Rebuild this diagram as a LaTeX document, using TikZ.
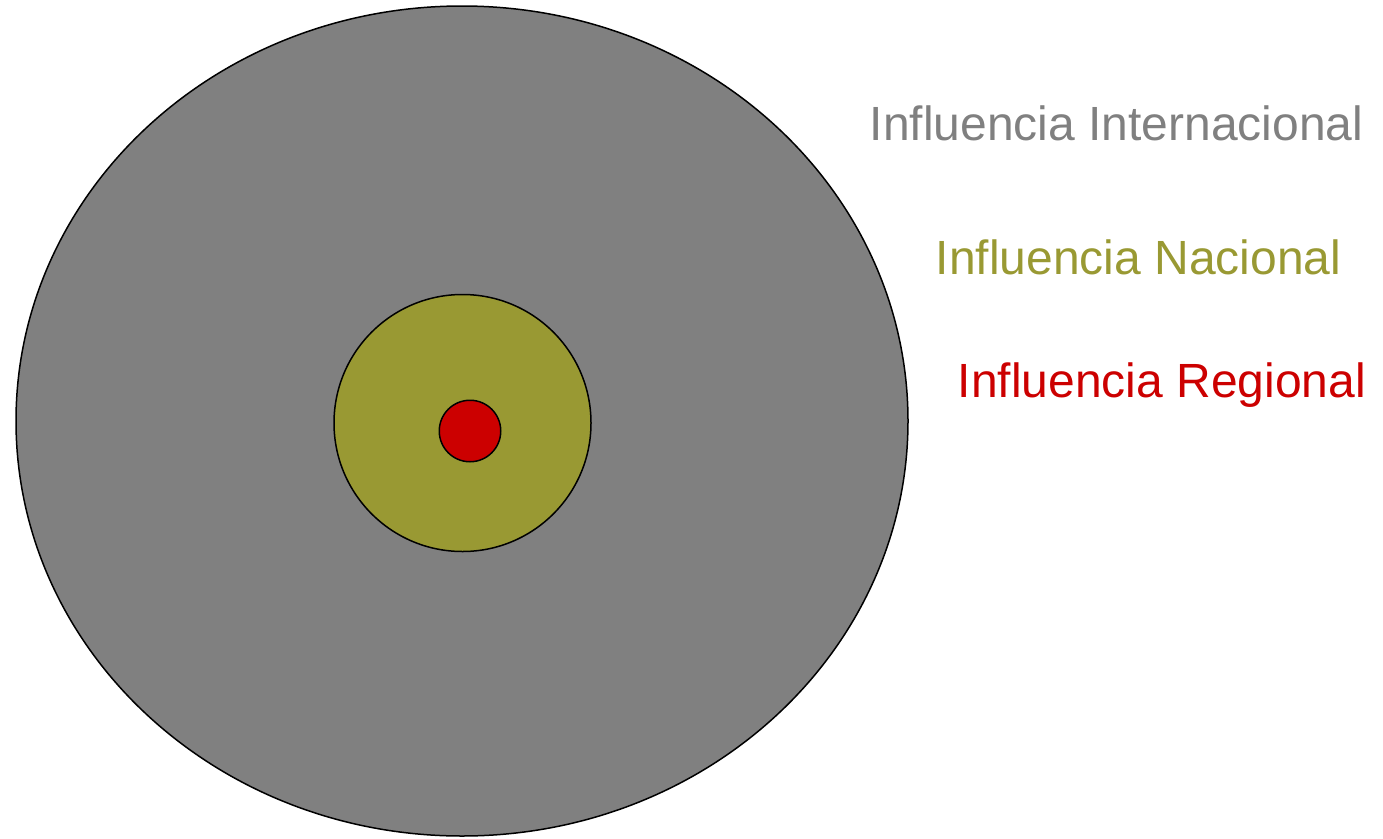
\documentclass[tikz,border=0pt]{standalone}
\usepackage{fontspec}
\setmainfont{Liberation Sans}
\usetikzlibrary{shapes.geometric}
\definecolor{cgray}{HTML}{808080}
\definecolor{colive}{HTML}{999933}
\definecolor{cred}{HTML}{CC0000}
\begin{document}
\begin{tikzpicture}[x=1pt,y=-1pt,
  ring/.style={draw=black,line width=1.5pt,inner sep=0pt},
  lab/.style={anchor=base west,inner sep=0pt,font=\fontsize{48}{56}\selectfont}]
\useasboundingbox (0,0) rectangle (1383,838);
\node[ring,ellipse,fill=cgray,minimum width=892pt,minimum height=830pt] (outer) at (462,421) {};
\node[ring,circle,fill=colive,minimum size=257pt] (mid) at (462.5,423) {};
\node[ring,circle,fill=cred,minimum size=61.5pt] (inner) at (470,431) {};
\node[lab,text=cgray] (tint) at (869.5,140) {Influencia Internacional};
\node[lab,text=colive] (tnac) at (935.5,274) {Influencia Nacional};
\node[lab,text=cred] (treg) at (957.5,397) {Influencia Regional};
\end{tikzpicture}
\end{document}
